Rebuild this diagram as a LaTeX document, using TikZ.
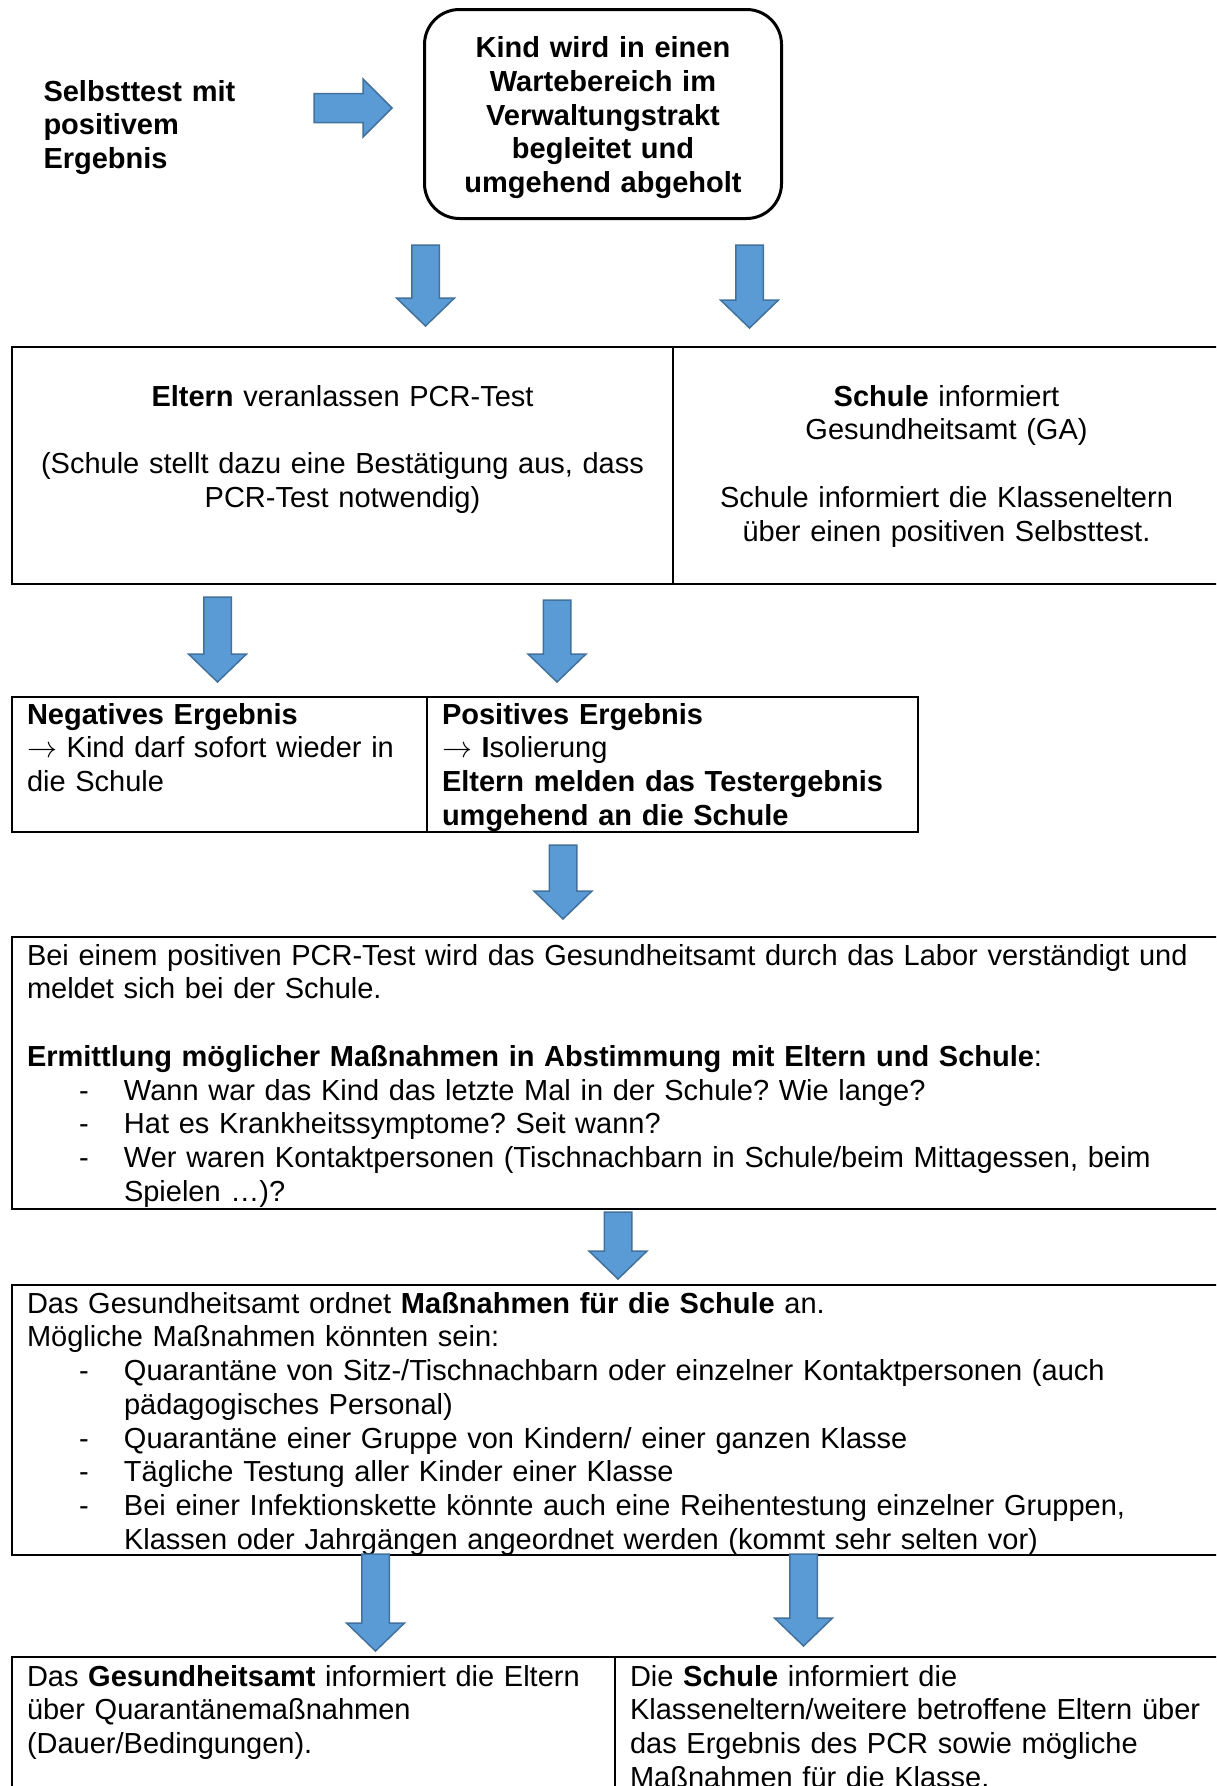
\documentclass[tikz,border=0pt]{standalone}
\usepackage{fontspec}
\setmainfont{Liberation Sans}
\usepackage{tikz}
\usetikzlibrary{positioning,calc}
\definecolor{arrowblue}{RGB}{91,155,213}
\definecolor{arrowedge}{RGB}{65,113,156}
\frenchspacing
\newcommand{\bodyfont}{\fontsize{11.6}{13.5}\selectfont}
% dash bullets with hanging text
\newcommand{\dashitem}{\makebox[38.8pt][l]{\hspace{20.8pt}-}}
\newcommand{\dashcont}{\hspace*{38.8pt}}
% block arrows between named coordinates
\newcommand{\downblock}[2]{%
  \draw[blockarrow] ([xshift=-5.5pt]#1) -- ([xshift=-5.5pt,yshift=11.2pt]#2)
    -- ([xshift=-11.6pt,yshift=11.2pt]#2) -- (#2)
    -- ([xshift=11.6pt,yshift=11.2pt]#2) -- ([xshift=5.5pt,yshift=11.2pt]#2)
    -- ([xshift=5.5pt]#1) -- cycle;}
\newcommand{\rightblock}[2]{%
  \draw[blockarrow] ([yshift=5.8pt]#1) -- ([xshift=-11.6pt,yshift=5.8pt]#2)
    -- ([xshift=-11.6pt,yshift=11.6pt]#2) -- (#2)
    -- ([xshift=-11.6pt,yshift=-11.6pt]#2) -- ([xshift=-11.6pt,yshift=-5.8pt]#2)
    -- ([yshift=-5.8pt]#1) -- cycle;}

\begin{document}
\begin{tikzpicture}[x=0.4pt, y=-0.4pt,
    box/.style={rectangle, draw, line width=0.8pt, anchor=north west, inner ysep=0pt,
                inner xsep=6pt, font=\bodyfont, text height=11.2pt},
    blockarrow/.style={fill=arrowblue, draw=arrowedge, line width=0.6pt, line join=miter}
]
\useasboundingbox (0,0) rectangle (1216,1786);
\clip (0,0) rectangle (1216,1786);
\fill[white] (0,0) rectangle (1216,1786);

% top
\node[font=\bodyfont\bfseries, text width=90pt, align=left, inner sep=0pt, anchor=base west] (selbst) at (43,101)
  {Selbsttest mit\\positivem\\Ergebnis};
\node[box, rounded corners=14pt, line width=1.2pt, font=\bodyfont\bfseries, align=center,
      text width=130.8pt, text height=19.2pt, text depth=64.4pt] (kind) at (423,8)
  {Kind wird in einen\\Wartebereich im\\Verwaltungstrakt\\begleitet und\\umgehend abgeholt};

% first split
\node[box, align=center, text width=252.4pt, text height=23.6pt, text depth=71.2pt] (eltern) at (11,346)
  {\textbf{Eltern} veranlassen PCR-Test\\[13.5pt](Schule stellt dazu eine Bestätigung aus, dass\\PCR-Test notwendig)};
\node[box, align=center, text width=206.8pt, text height=23.6pt, text depth=71.2pt] (schule) at (672,346)
  {\textbf{Schule} informiert\\Gesundheitsamt (GA)\\[13.5pt]Schule informiert die Klasseneltern\\über einen positiven Selbsttest.};

% test results
\node[box, align=left, text width=154pt, text height=10.8pt, text depth=43.2pt] (neg) at (11,696)
  {\textbf{Negatives Ergebnis}\\$\rightarrow$ Kind darf sofort wieder in\\die Schule};
\node[box, align=left, text width=184.4pt, text height=10.8pt, text depth=43.2pt] (pos) at (426,696)
  {\textbf{Positives Ergebnis}\\$\rightarrow$ \textbf{I}solierung\\\textbf{Eltern melden das Testergebnis}\\\textbf{umgehend an die Schule}};

% health office
\node[box, align=left, text width=476pt, text depth=97.6pt] (labor) at (11,936)
  {Bei einem positiven PCR-Test wird das Gesundheitsamt durch das Labor verständigt und\\
   meldet sich bei der Schule.\\[13.5pt]
   \textbf{Ermittlung möglicher Maßnahmen in Abstimmung mit Eltern und Schule}:\\
   \dashitem Wann war das Kind das letzte Mal in der Schule? Wie lange?\\
   \dashitem Hat es Krankheitssymptome? Seit wann?\\
   \dashitem Wer waren Kontaktpersonen (Tischnachbarn in Schule/beim Mittagessen, beim\\
   \dashcont Spielen …)?};
\node[box, align=left, text width=476pt, text depth=96.8pt] (mass) at (11,1284)
  {Das Gesundheitsamt ordnet \textbf{Maßnahmen für die Schule} an.\\
   Mögliche Maßnahmen könnten sein:\\
   \dashitem Quarantäne von Sitz-/Tischnachbarn oder einzelner Kontaktpersonen (auch\\
   \dashcont pädagogisches Personal)\\
   \dashitem Quarantäne einer Gruppe von Kindern/ einer ganzen Klasse\\
   \dashitem Tägliche Testung aller Kinder einer Klasse\\
   \dashitem Bei einer Infektionskette könnte auch eine Reihentestung einzelner Gruppen,\\
   \dashcont Klassen oder Jahrgängen angeordnet werden (kommt sehr selten vor)};

% information
\node[box, align=left, text width=229.2pt, text height=11.6pt, text depth=58pt] (gainfo) at (11,1656)
  {Das \textbf{Gesundheitsamt} informiert die Eltern\\über Quarantänemaßnahmen\\(Dauer/Bedingungen).};
\node[box, align=left, text width=234.4pt, text height=11.6pt, text depth=58pt] (schinfo) at (614,1656)
  {Die \textbf{Schule} informiert die\\Klasseneltern/weitere betroffene Eltern über\\das Ergebnis des PCR sowie mögliche\\Maßnahmen für die Klasse.};

% arrows
\coordinate (r1s) at (314,108);   \coordinate (r1e) at (392,108);
\coordinate (a1s) at (425.5,245); \coordinate (a1e) at (425.5,326);
\coordinate (a2s) at (749.5,245); \coordinate (a2e) at (749.5,328);
\coordinate (a3s) at (217.5,597); \coordinate (a3e) at (217.5,682);
\coordinate (a4s) at (557,600);   \coordinate (a4e) at (557,682);
\coordinate (a5s) at (563,845);   \coordinate (a5e) at (563,919);
\coordinate (a6s) at (618,1212);  \coordinate (a6e) at (618,1279);
\coordinate (a7s) at (375.5,1554);\coordinate (a7e) at (375.5,1651);
\coordinate (a8s) at (803.5,1554);\coordinate (a8e) at (803.5,1646);
\rightblock{r1s}{r1e}
\foreach \a in {a1,a2,a3,a4,a5,a6,a7,a8}
  \downblock{\a s}{\a e};
\end{tikzpicture}
\end{document}
